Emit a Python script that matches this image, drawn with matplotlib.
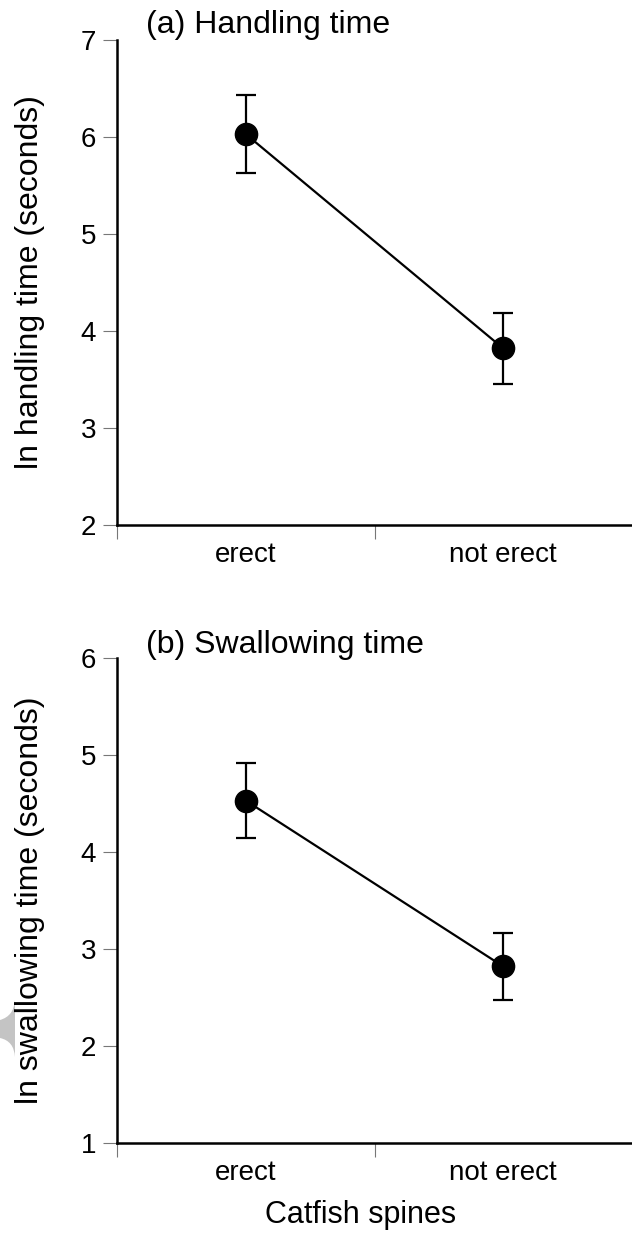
import numpy as np
import matplotlib.pyplot as plt
from matplotlib.path import Path
from matplotlib.patches import PathPatch

plt.rcParams['font.family'] = ['Liberation Sans', 'DejaVu Sans']

# values (mean and error bar ends)
categories = ['erect', 'not erect']
handling_mean = [6.03, 3.82]
handling_low = [5.63, 3.45]
handling_high = [6.43, 4.19]
swallow_mean = [4.53, 2.82]
swallow_low = [4.14, 2.47]
swallow_high = [4.92, 3.16]
handling_ticks = [2, 3, 4, 5, 6, 7]
swallow_ticks = [1, 2, 3, 4, 5, 6]

W, H = 632, 1243
fig = plt.figure(figsize=(W / 100, H / 100), dpi=100)


def px(x, y):
    # pixel position (from top left) -> figure fraction
    return x / W, 1 - y / H


def draw_panel(ax, mean, low, high, yticks, title, ylabel, title_y):
    xpos = np.arange(len(mean)) + 0.5
    err = [np.subtract(mean, low), np.subtract(high, mean)]
    ax.errorbar(xpos, mean, yerr=err, fmt='o-', color='k', ms=16, lw=1.6,
                elinewidth=1.6, capsize=7, capthick=1.6, zorder=3, clip_on=False)
    ax.set_xlim(0, len(mean))
    ax.set_ylim(yticks[0], yticks[-1])
    ax.set_yticks(yticks)
    ax.set_xticks(range(len(mean)))
    ax.set_xticklabels([])
    ax.set_xticks(xpos, minor=True)
    ax.set_xticklabels(categories, minor=True)
    for s in ['top', 'right']:
        ax.spines[s].set_visible(False)
    for s in ['left', 'bottom']:
        ax.spines[s].set_linewidth(1.8)
    ax.tick_params(which='major', length=10, width=0.8, color='#777777',
                   labelsize=20, pad=5)
    ax.tick_params(axis='x', which='minor', length=0, labelsize=20, pad=12)
    fig.text(*px(146, title_y), title, fontsize=23, ha='left', va='baseline')
    cy = (ax.get_position().y0 + ax.get_position().y1) / 2
    fig.text(30 / W, cy, ylabel, fontsize=23, rotation=90, ha='center', va='center')


ax1 = fig.add_axes([117 / W, 1 - 525 / H, (W - 117) / W, 485 / H])
draw_panel(ax1, handling_mean, handling_low, handling_high, handling_ticks,
           '(a) Handling time', 'ln handling time (seconds)', 33)

ax2 = fig.add_axes([117 / W, 1 - 1143 / H, (W - 117) / W, 485 / H])
draw_panel(ax2, swallow_mean, swallow_low, swallow_high, swallow_ticks,
           '(b) Swallowing time', 'ln swallowing time (seconds)', 653)

fig.text(*px(361, 1215), 'Catfish spines', fontsize=22, ha='center', va='center')

# grey tab at the left edge of the scan
verts = [px(15, 1000), px(14, 1016), px(0, 1020), px(0, 1038),
         px(14, 1041), px(15, 1057), px(15, 1000)]
codes = [Path.MOVETO, Path.CURVE3, Path.CURVE3, Path.LINETO,
         Path.CURVE3, Path.CURVE3, Path.CLOSEPOLY]
fig.patches.append(PathPatch(Path(verts, codes), transform=fig.transFigure,
                             facecolor='#c4c4c4', edgecolor='none'))

plt.savefig('out.png', dpi=100)
